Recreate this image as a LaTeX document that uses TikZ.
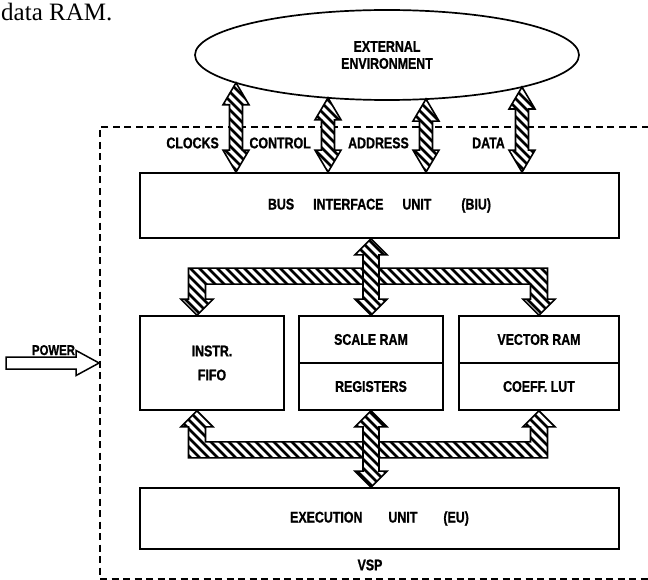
\documentclass[tikz,border=0pt]{standalone}
\usepackage{fontspec}
\usetikzlibrary{calc,shapes.geometric}
\newfontfamily\plotfont{Liberation Sans}[FakeStretch=0.8, FakeBold=1]
\newfontfamily\bookfont{Liberation Serif}
% two-way bus arrow: top tip #1, bottom tip #2, head/shaft half widths #3/#4, head length #5
\newcommand*{\vbus}[5]{%
  \draw[hatch] (#1) -- ($(#1)+(#3,#5)$) -- ($(#1)+(#4,#5)$) -- ($(#2)+(#4,-#5)$)
    -- ($(#2)+(#3,-#5)$) -- (#2) -- ($(#2)+(-#3,-#5)$) -- ($(#2)+(-#4,-#5)$)
    -- ($(#1)+(-#4,#5)$) -- ($(#1)+(-#3,#5)$) -- cycle;}
% bus bar with two legs ending in tips #1 and #2, bar on side #3 (-1 above, 1 below)
\newcommand*{\hbus}[3]{%
  \draw[hatch] (#1) -- ($(#1)+(16,#3*16)$) -- ($(#1)+(8.5,#3*16)$) -- ($(#1)+(8.5,#3*31)$)
    -- ($(#2)+(-8.5,#3*31)$) -- ($(#2)+(-8.5,#3*16)$) -- ($(#2)+(-16,#3*16)$) -- (#2)
    -- ($(#2)+(16,#3*16)$) -- ($(#2)+(8.5,#3*16)$) -- ($(#2)+(8.5,#3*47)$)
    -- ($(#1)+(-8.5,#3*47)$) -- ($(#1)+(-8.5,#3*16)$) -- ($(#1)+(-16,#3*16)$) -- cycle;}

\begin{document}
\begin{tikzpicture}[x=1pt,y=-1pt,
    every node/.style={inner sep=0pt,
      font=\plotfont\bfseries\fontsize{15.5}{17}\selectfont},
    block/.style={draw, line width=1.7pt, align=center},
    hatch/.style={draw, line width=1.6pt, fill=white, path picture={
      \foreach \k in {-600,-591,...,650}
        \draw[line width=2.8pt] (\k,0) -- ++(640,640);}},
    vspbox/.style={draw, line width=1.8pt, dash pattern=on 7pt off 4.5pt}]
  \useasboundingbox (0,0) rectangle (648,580);
  \clip (0,0) rectangle (648,580);

  \node[anchor=base west, font=\bookfont\fontsize{25}{30}\selectfont] (prev) at (1,21) {data RAM.};

  \node[vspbox, minimum width=560, minimum height=452] (vsp) at (380,353) {};
  \node (vspname) at (370,565) {VSP};

  \node[block, ellipse, minimum width=384, minimum height=90] (env) at (387,55)
    {EXTERNAL\\ENVIRONMENT};
  \node[block, minimum width=479, minimum height=65] (biu) at (379.5,205.5)
    {BUS\hspace{19pt}INTERFACE\hspace{19pt}UNIT\hspace{30pt}(BIU)};
  \node[block, minimum width=144, minimum height=94] (fifo) at (212,363) {INSTR.\\[7pt]FIFO};
  \node[block, minimum width=144, minimum height=47] (scale) at (371,339.5) {SCALE RAM};
  \node[block, minimum width=144, minimum height=47] (regs) at (371,386.5) {REGISTERS};
  \node[block, minimum width=160, minimum height=47] (vector) at (539,339.5) {VECTOR RAM};
  \node[block, minimum width=160, minimum height=47] (coeff) at (539,386.5) {COEFF. LUT};
  \node[block, minimum width=479, minimum height=61] (eu) at (379.5,518.5)
    {EXECUTION\hspace{26pt}UNIT\hspace{26pt}(EU)};

  \foreach \x/\sig [count=\i] in {236/CLOCKS,328/CONTROL,426/ADDRESS,522/DATA}{
    \pgfmathsetmacro{\ty}{55+45*sqrt(1-((\x-387)/192)^2)}
    \coordinate (in\i) at (\x,\ty);
    \coordinate (out\i) at (in\i |- biu.north);
    \vbus{in\i}{out\i}{13}{6.5}{22}
    \node[anchor=east] (sig\i) at (\x-17,143) {\sig};
  }

  \coordinate (ftop) at ($(fifo.north)+(-15,0)$);
  \coordinate (fbot) at ($(fifo.south)+(-15,0)$);
  \hbus{ftop}{vector.north}{-1}
  \hbus{fbot}{coeff.south}{1}
  \coordinate (biuout) at (scale.north |- biu.south);
  \coordinate (euin) at (regs.south |- eu.north);
  \vbus{biuout}{scale.north}{16}{8}{16}
  \vbus{regs.south}{euin}{16}{8}{16}

  \coordinate (ptip) at (vsp.west |- fifo.center);
  \draw[line width=1.5pt, fill=white] (ptip) -- ++(-23,-12.5) -- ++(0,6.5) -- ++(-70,0)
    -- ++(0,12) -- ++(70,0) -- ++(0,6.5) -- cycle;
  \node[anchor=base, font=\plotfont\bfseries\fontsize{14.2}{16}\selectfont] (power)
    at (53.5,355) {POWER};
\end{tikzpicture}
\end{document}
